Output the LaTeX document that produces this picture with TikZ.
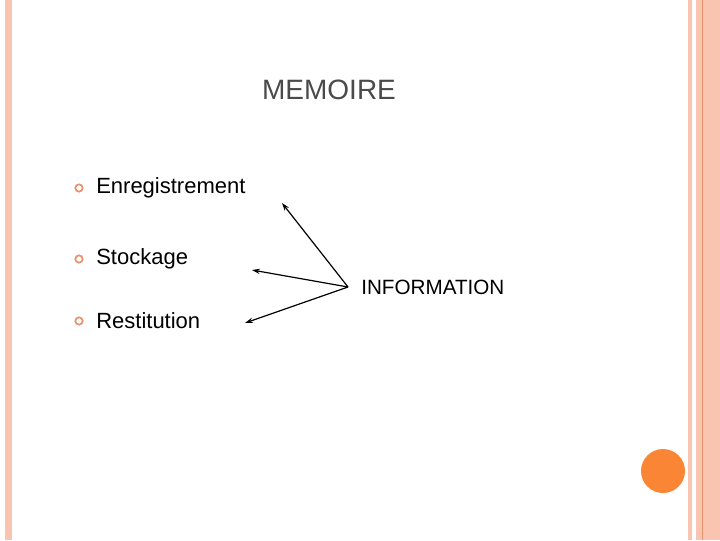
\documentclass[tikz,border=0pt]{standalone}
\usepackage{fontspec}
\setmainfont{Liberation Sans}
\usetikzlibrary{arrows.meta}
\definecolor{pk}{HTML}{F9C4B0}
\definecolor{dk}{HTML}{E8926E}
\definecolor{og}{HTML}{FA8535}
\definecolor{tx}{HTML}{4A4A4A}
\begin{document}
\begin{tikzpicture}[x=0.75pt,y=-0.75pt,
  item/.style={anchor=west,font=\fontsize{16.5}{18}\selectfont,inner sep=0},
  bul/.style={circle,draw=dk,line width=1.3pt,minimum size=5.5pt,inner sep=0},
  arr/.style={-{Stealth[length=6pt,width=4pt]},line width=0.9pt}]
\useasboundingbox (0,0) rectangle (720,540);
\fill[white] (0,0) rectangle (720,540);
\fill[pk] (5,0) rectangle (12,540);
\fill[pk] (688,0) rectangle (692,540);
\fill[pk] (696,0) rectangle (720,540);
\draw[dk,line width=0.6pt] (702,0) -- (702,540);
\fill[og] (663,471) circle (22);
\node[font=\fontsize{21}{24}\selectfont,text=tx] (t) at (329,90) {MEMOIRE};
\node[bul] (b1) at (79,188) {};
\node[bul] (b2) at (79,259) {};
\node[bul] (b3) at (79,321) {};
\node[item] (e) at (96,188) {Enregistrement};
\node[item] (s) at (96,259) {Stockage};
\node[item] (r) at (96,321) {Restitution};
\node[anchor=west,inner sep=0,font=\fontsize{15.5}{18}\selectfont] (i) at (361,287) {INFORMATION};
\coordinate (a) at (348,287);
\coordinate (ea) at (282,203);
\coordinate (sa) at (252,270);
\coordinate (ra) at (245,323);
\draw[arr] (a) -- (ea);
\draw[arr] (a) -- (sa);
\draw[arr] (a) -- (ra);
\end{tikzpicture}
\end{document}
